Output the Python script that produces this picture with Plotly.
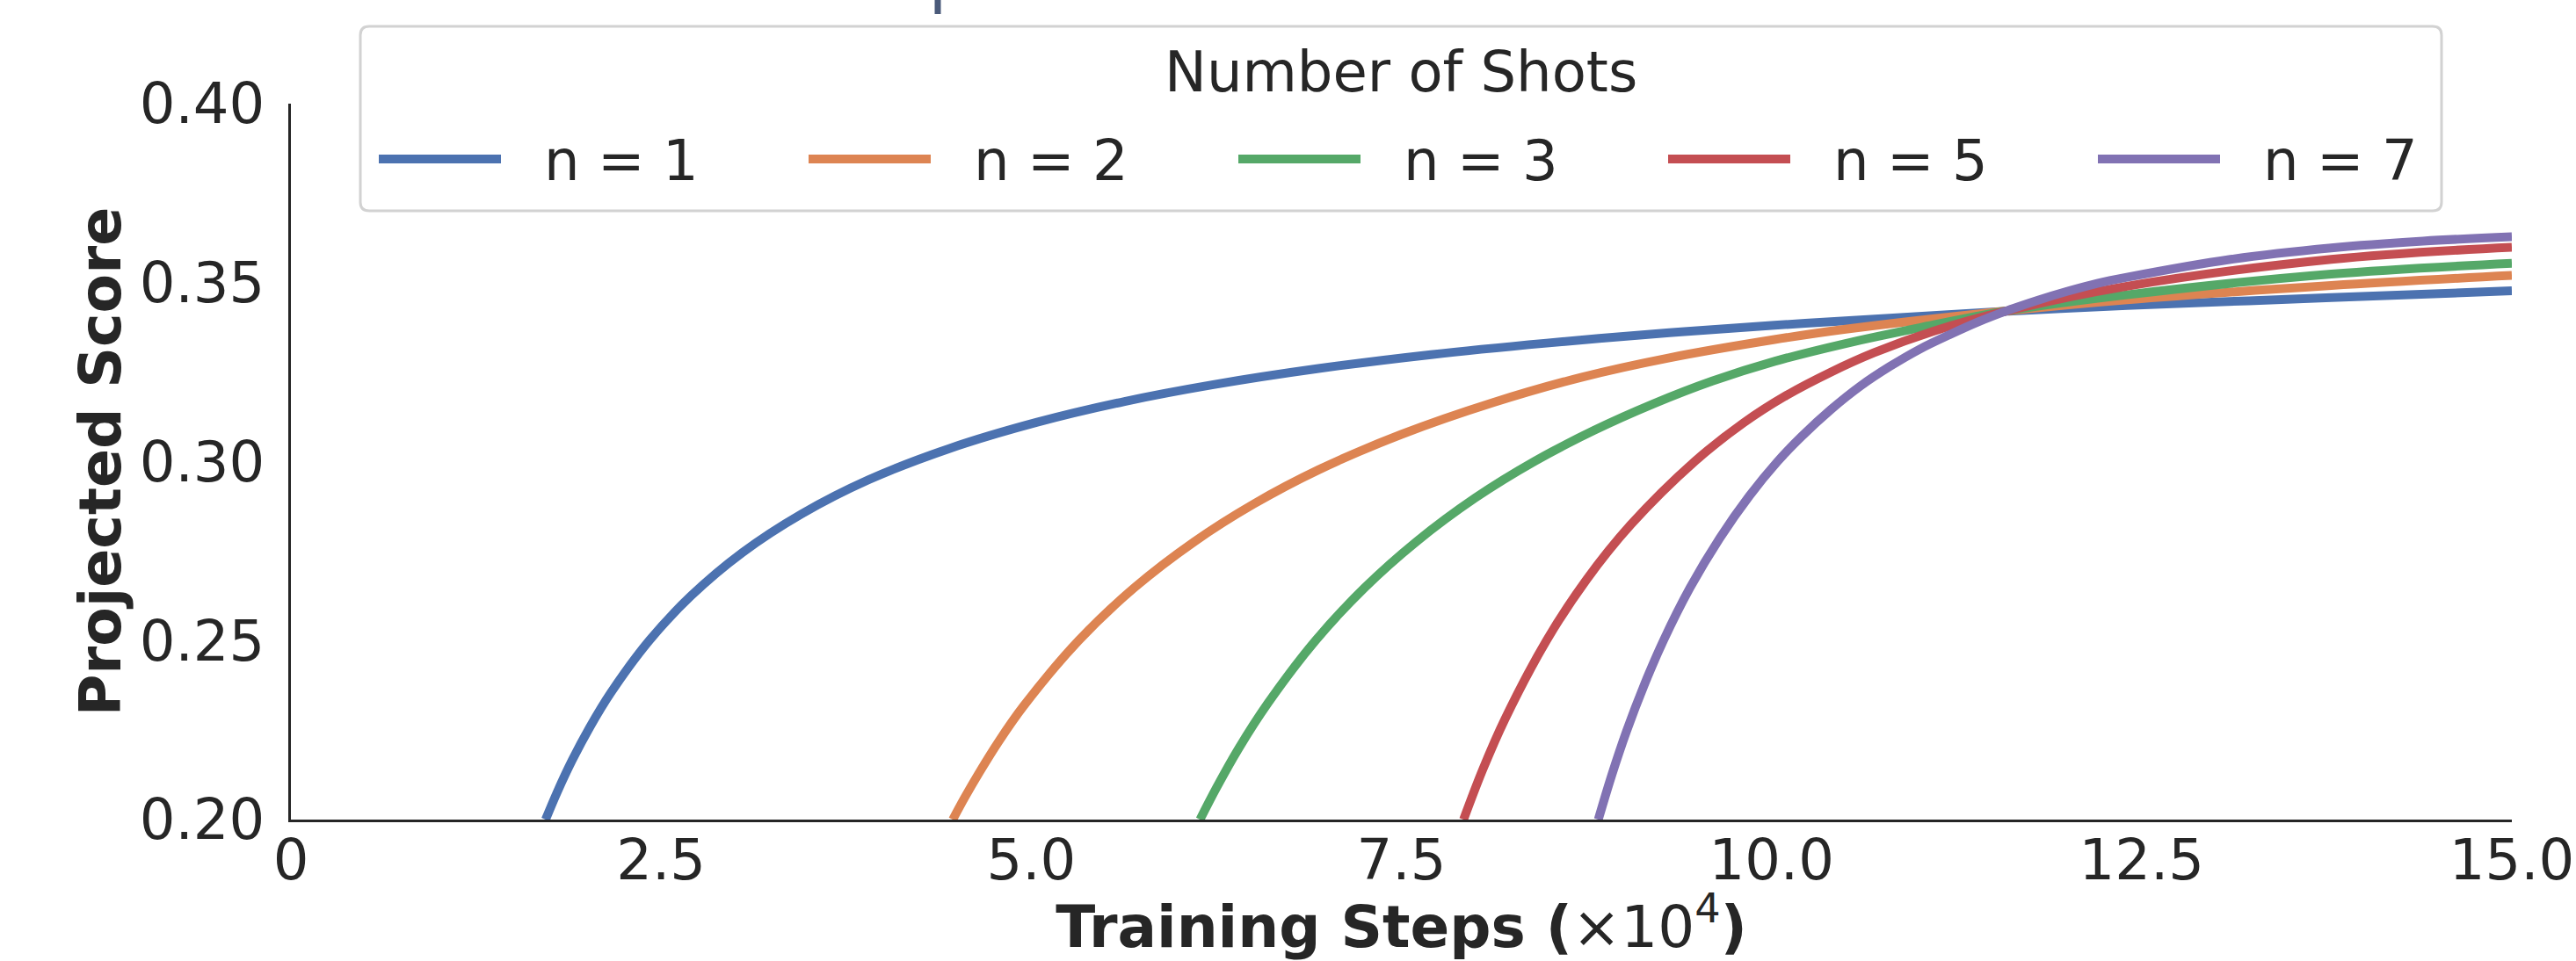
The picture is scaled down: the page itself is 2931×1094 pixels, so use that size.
import plotly.graph_objects as go

# ---- data (x in units of 10^4 training steps) ----
x_n1 = [1.72, 1.80, 1.90, 2.02, 2.16, 2.42, 2.70, 3.05, 3.45, 3.90, 4.45, 5.04, 5.63, 6.23, 6.94, 7.70, 8.48, 9.31, 10.02, 10.50, 11.59, 12.40, 13.78, 15.0]
y_n1 = [0.2000, 0.2078, 0.2166, 0.2259, 0.2354, 0.2500, 0.2624, 0.2746, 0.2854, 0.2949, 0.3037, 0.3110, 0.3168, 0.3215, 0.3260, 0.3299, 0.3331, 0.3360, 0.3381, 0.3393, 0.3420, 0.3436, 0.3458, 0.3477]

x_n2 = [4.47, 4.55, 4.65, 4.78, 4.95, 5.32, 5.70, 6.10, 6.50, 6.94, 7.50, 8.12, 8.72, 9.31, 10.02, 10.50, 11.59, 12.40, 13.78, 15.0]
y_n2 = [0.2000, 0.2061, 0.2132, 0.2218, 0.2318, 0.2500, 0.2649, 0.2776, 0.2881, 0.2977, 0.3076, 0.3165, 0.3236, 0.3290, 0.3341, 0.3370, 0.3421, 0.3452, 0.3492, 0.3520]

x_n3 = [6.14, 6.25, 6.40, 6.60, 6.92, 7.25, 7.60, 8.00, 8.40, 8.80, 9.20, 9.60, 10.02, 10.50, 11.00, 11.59, 12.40, 13.78, 15.0]
y_n3 = [0.2000, 0.2088, 0.2198, 0.2326, 0.2500, 0.2647, 0.2776, 0.2899, 0.3001, 0.3087, 0.3161, 0.3225, 0.3280, 0.3330, 0.3374, 0.3421, 0.3466, 0.3524, 0.3554]

x_n5 = [7.92, 8.05, 8.20, 8.48, 8.75, 9.05, 9.48, 9.81, 10.10, 10.40, 10.69, 11.09, 11.59, 12.40, 13.78, 15.0]
y_n5 = [0.2000, 0.2140, 0.2281, 0.2500, 0.2670, 0.2824, 0.3000, 0.3108, 0.3185, 0.3250, 0.3304, 0.3364, 0.3421, 0.3490, 0.3565, 0.3599]

x_n7 = [8.83, 8.92, 9.02, 9.14, 9.27, 9.45, 9.65, 9.85, 10.04, 10.20, 10.40, 10.60, 10.80, 11.00, 11.20, 11.40, 11.60, 11.80, 12.00, 12.20, 12.40, 13.10, 13.78, 14.40, 15.0]
y_n7 = [0.2000, 0.2123, 0.2246, 0.2376, 0.2500, 0.2648, 0.2786, 0.2904, 0.3000, 0.3069, 0.3145, 0.3211, 0.3266, 0.3314, 0.3354, 0.3391, 0.3423, 0.3451, 0.3476, 0.3498, 0.3515, 0.3565, 0.3597, 0.3616, 0.3628]

series_names = ["n = 1", "n = 2", "n = 3", "n = 5", "n = 7"]
series_x = [x_n1, x_n2, x_n3, x_n5, x_n7]
series_y = [y_n1, y_n2, y_n3, y_n5, y_n7]
colors = ["#4C72B0", "#DD8452", "#55A868", "#C44E52", "#8172B3"]

x_tickvals = [0, 2.5, 5.0, 7.5, 10.0, 12.5, 15.0]
x_ticktext = ["0", "2.5", "5.0", "7.5", "10.0", "12.5", "15.0"]
y_tickvals = [0.20, 0.25, 0.30, 0.35, 0.40]
y_ticktext = ["0.20", "0.25", "0.30", "0.35", "0.40"]
grid_vals = [0.25, 0.30, 0.35]
legend_title = "Number of Shots"

# ---- layout constants (pixels) ----
W, H = 2931, 1094
L, R, T, B = 331, 73, 118, 161
PW, PH = W - L - R, H - T - B
FONT = "DejaVu Sans"
TXT = "#262626"


def px_x(p):
    return (p - L) / PW


def px_y(p):
    return (H - B - p) / PH


fig = go.Figure()
for name, xs, ys, c in zip(series_names, series_x, series_y, colors):
    fig.add_trace(go.Scatter(x=xs, y=ys, mode="lines", name=name, showlegend=False,
                             line=dict(color=c, width=10, shape="spline", smoothing=1.0)))

# ---- legend box (drawn by hand to match the long legend handles) ----
bx0, bx1, by0, by1 = px_x(410), px_x(2778), px_y(240), px_y(30)
rx, ry = 10 / PW, 10 / PH
path = (f"M{bx0+rx},{by0} L{bx1-rx},{by0} Q{bx1},{by0} {bx1},{by0+ry} L{bx1},{by1-ry} "
        f"Q{bx1},{by1} {bx1-rx},{by1} L{bx0+rx},{by1} Q{bx0},{by1} {bx0},{by1-ry} "
        f"L{bx0},{by0+ry} Q{bx0},{by0} {bx0+rx},{by0} Z")
fig.add_shape(type="path", path=path, xref="paper", yref="paper",
              line=dict(color="#d2d2d2", width=3), fillcolor="rgba(255,255,255,0.8)",
              layer="above")
fig.add_annotation(text=legend_title, xref="paper", yref="paper",
                   x=px_x(1594), y=px_y(82), xanchor="center", yanchor="middle",
                   showarrow=False, font=dict(family=FONT, size=64, color=TXT))
ITEM0, PITCH, HANDLE, TEXT_GAP, ITEM_Y = 431, 489, 139, 47, 181
for i, (name, c) in enumerate(zip(series_names, colors)):
    hx = ITEM0 + i * PITCH
    fig.add_shape(type="line", xref="paper", yref="paper",
                  x0=px_x(hx), x1=px_x(hx + HANDLE), y0=px_y(ITEM_Y), y1=px_y(ITEM_Y),
                  line=dict(color=c, width=10), layer="above")
    fig.add_annotation(text=name, xref="paper", yref="paper",
                       x=px_x(hx + HANDLE + TEXT_GAP), y=px_y(ITEM_Y + 2),
                       xanchor="left", yanchor="middle", showarrow=False,
                       font=dict(family=FONT, size=64, color=TXT))

# fragment of an element above the chart
fig.add_shape(type="line", xref="paper", yref="paper",
              x0=px_x(1067), x1=px_x(1067), y0=px_y(16), y1=px_y(-2),
              line=dict(color="#4a5a7a", width=7))

fig.update_layout(
    width=W, height=H,
    margin=dict(l=L, r=R, t=T, b=B, autoexpand=False),
    paper_bgcolor="white", plot_bgcolor="white",
    font=dict(family=FONT, size=64, color=TXT),
    showlegend=False,
    xaxis=dict(
        range=[0, 15], tickvals=x_tickvals, ticktext=x_ticktext,
        showgrid=False, zeroline=False, showline=True, linecolor=TXT, linewidth=3,
        ticks="", ticklabelstandoff=-12,
        tickfont=dict(family=FONT, size=64, color=TXT),
        title=dict(text="<b>Training Steps (</b>×10<sup>4</sup><b>)</b>",
                   font=dict(family=FONT, size=66, color=TXT), standoff=44),
        automargin=False,
    ),
    yaxis=dict(
        range=[0.2, 0.4], tickvals=y_tickvals, ticktext=y_ticktext,
        showgrid=False, zeroline=False, showline=True, linecolor=TXT, linewidth=3,
        ticks="outside", ticklen=14, tickcolor="rgba(0,0,0,0)",
        tickfont=dict(family=FONT, size=64, color=TXT),
        title=dict(text="<b>Projected Score</b>",
                   font=dict(family=FONT, size=65, color=TXT), standoff=0),
        automargin=False,
    ),
    yaxis2=dict(
        range=[0.2, 0.4], overlaying="y", tickvals=grid_vals, showticklabels=False,
        showgrid=True, gridcolor="#b8b8b8", gridwidth=2, griddash="dot",
        zeroline=False, showline=False, ticks="",
    ),
)
fig.write_html("out.html", config={"displayModeBar": False},
               post_script="document.body.style.margin='0';")
